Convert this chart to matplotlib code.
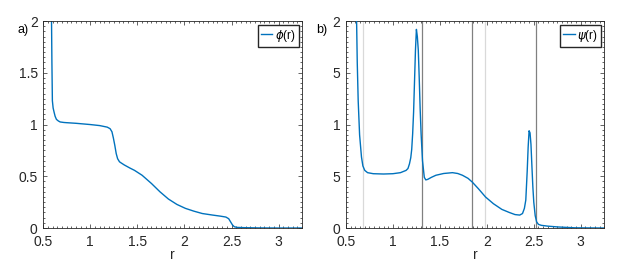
import numpy as np
import matplotlib.pyplot as plt
from matplotlib.ticker import MultipleLocator

plt.rcParams['font.family'] = ['Liberation Sans', 'DejaVu Sans']

# phi(r), read off panel a)
r_phi = [0.588, 0.592, 0.597, 0.605, 0.615, 0.626, 0.64, 0.66, 0.68, 0.72, 0.75, 0.85, 1.0, 1.1,
         1.18, 1.21, 1.23, 1.245, 1.26, 1.275, 1.29, 1.31, 1.326, 1.36, 1.42, 1.47, 1.55, 1.65,
         1.74, 1.83, 1.92, 2.01, 2.1, 2.19, 2.3, 2.38, 2.44, 2.47, 2.49, 2.51, 2.53, 2.56,
         2.65, 2.8, 3.0, 3.25]
phi = [2.0, 1.6, 1.23, 1.16, 1.12, 1.08, 1.05, 1.035, 1.025, 1.02, 1.018, 1.012, 1.0, 0.99,
       0.975, 0.96, 0.93, 0.87, 0.8, 0.72, 0.67, 0.64, 0.63, 0.61, 0.58, 0.557, 0.51, 0.43,
       0.35, 0.28, 0.228, 0.19, 0.163, 0.14, 0.125, 0.115, 0.106, 0.09, 0.06, 0.03, 0.012,
       0.006, 0.003, 0.001, 0.0, 0.0]

# psi(r), read off panel b)
r_psi = [0.613, 0.62, 0.63, 0.645, 0.665, 0.68, 0.70, 0.73, 0.79, 0.9, 1.0, 1.08, 1.14, 1.16,
         1.176, 1.19, 1.2, 1.21, 1.22, 1.23, 1.24, 1.25, 1.26, 1.27, 1.28, 1.29, 1.30, 1.315,
         1.334, 1.35, 1.37, 1.41, 1.458, 1.54, 1.634, 1.69, 1.74, 1.8, 1.845, 1.91, 1.986, 2.07,
         2.16, 2.24, 2.30, 2.35, 2.38, 2.40, 2.415, 2.43, 2.44, 2.45, 2.46, 2.47, 2.48, 2.49,
         2.50, 2.515, 2.53, 2.55, 2.58, 2.65, 2.76, 2.94, 3.25]
psi = [2.0, 1.6, 1.23, 0.9, 0.686, 0.6, 0.557, 0.535, 0.525, 0.522, 0.525, 0.535, 0.557, 0.575,
       0.62, 0.68, 0.76, 0.91, 1.12, 1.42, 1.72, 1.92, 1.85, 1.72, 1.45, 1.15, 0.91, 0.65,
       0.49, 0.465, 0.47, 0.49, 0.51, 0.527, 0.535, 0.527, 0.51, 0.48, 0.444, 0.38, 0.30, 0.235,
       0.18, 0.15, 0.13, 0.125, 0.14, 0.19, 0.27, 0.55, 0.78, 0.94, 0.92, 0.81, 0.6, 0.4,
       0.25, 0.12, 0.06, 0.035, 0.026, 0.018, 0.01, 0.002, 0.0]

light_lines = [0.683, 1.98]
dark_lines = [1.31, 1.845, 2.52]

xticks = [0.5, 1, 1.5, 2, 2.5, 3]
yticks = [0, 0.5, 1, 1.5, 2]
yticklabels_a = ['0', '0.5', '1', '1.5', '2']
yticklabels_b = ['0', '5', '1', '5', '2']

blue = '#0072BD'

fig = plt.figure(figsize=(6.36, 2.67), dpi=100)
ax1 = fig.add_axes([0.068, 0.146, 0.407, 0.775])
ax2 = fig.add_axes([0.544, 0.146, 0.406, 0.775])


def style(ax, ylabels):
    ax.set_xlim(0.5, 3.25)
    ax.set_ylim(0, 2)
    ax.set_xticks(xticks)
    ax.set_xticklabels([f'{t:g}' for t in xticks])
    ax.set_yticks(yticks)
    ax.set_yticklabels(ylabels)
    ax.xaxis.set_minor_locator(MultipleLocator(0.05))
    ax.yaxis.set_minor_locator(MultipleLocator(0.05))
    ax.tick_params(which='both', direction='in', top=True, right=True, labelsize=10,
                   color='#262626', width=0.5, labelcolor='#262626')
    ax.tick_params(which='major', length=3)
    ax.tick_params(which='minor', length=1.5)
    ax.tick_params(axis='x', pad=5)
    ax.tick_params(axis='y', pad=4)
    for s in ax.spines.values():
        s.set_color('#262626')
        s.set_linewidth(0.6)
    ax.set_xlabel('r', fontsize=10, labelpad=-1, color='#262626')


ax1.plot(r_phi, phi, color=blue, lw=1, label=r'$\phi$(r)')
style(ax1, yticklabels_a)
ax1.legend(loc='upper right', fontsize=8.5, frameon=True, fancybox=False, edgecolor='#262626',
           handlelength=1.0, handletextpad=0.2, borderpad=0.25, borderaxespad=0.3,
           framealpha=1)

for x in light_lines:
    ax2.axvline(x, color='#d9d9d9', lw=0.9, zorder=1)
for x in dark_lines:
    ax2.axvline(x, color='#808080', lw=0.9, zorder=1)
ax2.plot(r_psi, psi, color=blue, lw=1, label=r'$\psi$(r)', zorder=3)
style(ax2, yticklabels_b)
ax2.legend(loc='upper right', fontsize=8.5, frameon=True, fancybox=False, edgecolor='#262626',
           handlelength=1.0, handletextpad=0.2, borderpad=0.25, borderaxespad=0.3,
           framealpha=1)

fig.text(17 / 636, 1 - 30 / 267, 'a)', fontsize=9, va='center')
fig.text(316 / 636, 1 - 30 / 267, 'b)', fontsize=9, va='center')

fig.savefig('out.png', dpi=100)
